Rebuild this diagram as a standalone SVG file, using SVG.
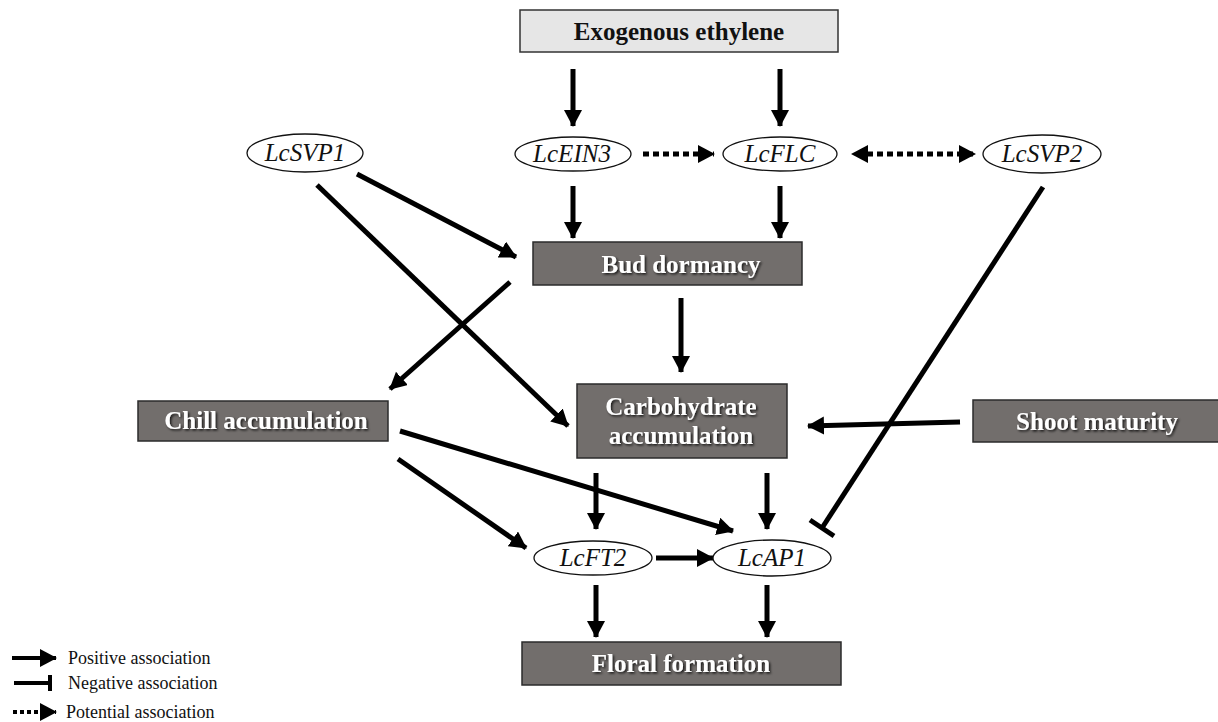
<svg xmlns="http://www.w3.org/2000/svg" width="1218" height="722" viewBox="0 0 1218 722">
<style>
.box{fill:#726e6c;stroke:#2b2b2b;stroke-width:1.5}
.lbox{fill:#e6e6e6;stroke:#333;stroke-width:1.5}
.bt{font-family:"Liberation Serif",serif;font-weight:bold;font-size:25px;fill:#fff;text-anchor:middle;filter:url(#sh)}
.dt{font-family:"Liberation Serif",serif;font-weight:bold;font-size:25px;fill:#111;text-anchor:middle}
.el{fill:#fff;stroke:#111;stroke-width:1.3}
.it{font-family:"Liberation Serif",serif;font-style:italic;font-size:25px;fill:#111;text-anchor:middle}
.a{stroke:#000;stroke-width:5;fill:none;marker-end:url(#ah)}
.n{stroke:#000;stroke-width:5;fill:none}
.d{stroke:#000;stroke-width:5;fill:none;stroke-dasharray:6 4;marker-end:url(#ah)}
.lg{font-family:"Liberation Serif",serif;font-size:18px;fill:#111}
</style>
<defs>
<marker id="ah" markerUnits="userSpaceOnUse" markerWidth="20" markerHeight="20" refX="16" refY="9" orient="auto">
<path d="M0,0 L17,9 L0,18 Z" fill="#000"/>
</marker>
<marker id="ahs" markerUnits="userSpaceOnUse" markerWidth="20" markerHeight="20" refX="1" refY="9" orient="auto-start-reverse">
<path d="M0,0 L17,9 L0,18 Z" fill="#000"/>
</marker>
<filter id="sh" x="-10%" y="-20%" width="120%" height="150%">
<feDropShadow dx="1.5" dy="1.5" stdDeviation="0.8" flood-color="#000" flood-opacity="0.8"/>
</filter>
</defs>

<g id="connectors">
<line class="a" x1="573" y1="69" x2="573" y2="126"/>
<line class="a" x1="780" y1="69" x2="780" y2="126"/>
<line class="d" x1="643" y1="154" x2="714" y2="154"/>
<line class="d" x1="867" y1="154" x2="975" y2="154" marker-start="url(#ahs)"/>
<line class="a" x1="573" y1="186" x2="573" y2="238"/>
<line class="a" x1="780" y1="186" x2="780" y2="238"/>
<line class="a" x1="357" y1="174" x2="516" y2="257"/>
<line class="a" x1="317" y1="185" x2="568" y2="426"/>
<line class="a" x1="510" y1="282" x2="390" y2="389"/>
<line class="a" x1="681" y1="298" x2="681" y2="372"/>
<line class="a" x1="960" y1="422" x2="808" y2="426"/>
<line class="a" x1="400" y1="431" x2="733" y2="531"/>
<line class="a" x1="398" y1="459" x2="526" y2="548"/>
<line class="a" x1="596" y1="473" x2="596" y2="529"/>
<line class="a" x1="767" y1="473" x2="767" y2="529"/>
<line class="n" x1="1043" y1="187" x2="822" y2="528"/>
<line class="n" x1="810" y1="520" x2="834" y2="536"/>
<line class="a" x1="656" y1="558" x2="713" y2="558"/>
<line class="a" x1="596" y1="585" x2="596" y2="637"/>
<line class="a" x1="767" y1="585" x2="767" y2="637"/>
</g>

<g id="exogenous-ethylene"><rect class="lbox" x="520" y="10" width="318" height="42"/><text class="dt" x="679" y="40">Exogenous ethylene</text></g>
<g id="LcSVP1"><ellipse class="el" cx="305" cy="153" rx="58" ry="19"/><text class="it" x="305" y="161">LcSVP1</text></g>
<g id="LcEIN3"><ellipse class="el" cx="573" cy="154" rx="58" ry="17"/><text class="it" x="572" y="162">LcEIN3</text></g>
<g id="LcFLC"><ellipse class="el" cx="780" cy="154" rx="57" ry="17"/><text class="it" x="780" y="162">LcFLC</text></g>
<g id="LcSVP2"><ellipse class="el" cx="1042" cy="154" rx="59" ry="19"/><text class="it" x="1042" y="162">LcSVP2</text></g>
<g id="bud-dormancy"><rect class="box" x="533" y="242" width="269" height="43"/><text class="bt" x="681" y="273">Bud dormancy</text></g>
<g id="chill-accumulation"><rect class="box" x="138" y="401" width="250" height="40"/><text class="bt" x="266" y="429">Chill accumulation</text></g>
<g id="carbohydrate-accumulation"><rect class="box" x="577" y="384" width="210" height="74"/><text class="bt" x="681" y="415">Carbohydrate</text><text class="bt" x="681" y="444">accumulation</text></g>
<g id="shoot-maturity"><rect class="box" x="973" y="400" width="250" height="42"/><text class="bt" x="1097" y="430">Shoot maturity</text></g>
<g id="LcFT2"><ellipse class="el" cx="593" cy="558" rx="59" ry="17"/><text class="it" x="593" y="566">LcFT2</text></g>
<g id="LcAP1"><ellipse class="el" cx="772" cy="558" rx="59" ry="18"/><text class="it" x="772" y="566">LcAP1</text></g>
<g id="floral-formation"><rect class="box" x="522" y="642" width="319" height="43"/><text class="bt" x="681" y="672">Floral formation</text></g>

<g id="legend">
<line class="a" x1="12" y1="658" x2="56" y2="658" style="stroke-width:4"/>
<text class="lg" x="68" y="664">Positive association</text>
<line class="n" x1="14" y1="683" x2="50" y2="683" style="stroke-width:4"/>
<line class="n" x1="50" y1="675" x2="50" y2="691" style="stroke-width:4"/>
<text class="lg" x="68" y="689">Negative association</text>
<line class="d" x1="13" y1="712" x2="56" y2="712" style="stroke-width:4;stroke-dasharray:4 3"/>
<text class="lg" x="66" y="718">Potential association</text>
</g>
</svg>
